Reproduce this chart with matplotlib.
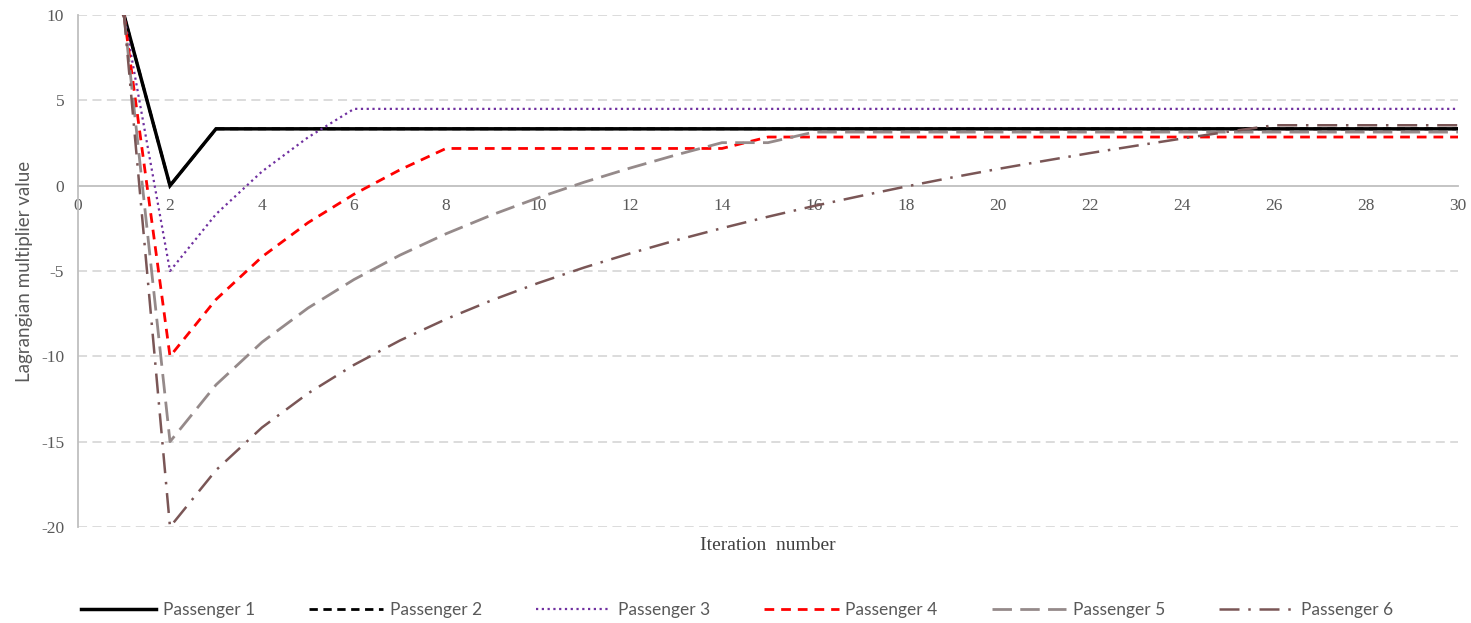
import matplotlib
matplotlib.use("Agg")
import matplotlib.pyplot as plt
from matplotlib.lines import Line2D

plt.rcParams["axes.unicode_minus"] = False

# Iterations of the subgradient procedure
iterations = list(range(1, 31))

# Lagrangian multiplier of each passenger per iteration
passenger_1 = [10, 0] + [3.33] * 28
passenger_2 = [10, 0] + [3.33] * 28
passenger_3 = [10, -5, -1.67, 0.83, 2.83] + [4.5] * 25
passenger_4 = [10, -10, -6.67, -4.17, -2.17, -0.5, 0.93] + [2.18] * 7 + [2.85] * 16
passenger_5 = [10, -15, -11.67, -9.17, -7.17, -5.5, -4.07, -2.82, -1.71, -0.71,
               0.2, 1.03, 1.8, 2.52, 2.52] + [3.14] * 15
passenger_6 = [10, -20, -16.67, -14.17, -12.17, -10.5, -9.07, -7.82, -6.71, -5.71,
               -4.8, -3.97, -3.2, -2.49, -1.82, -1.19, -0.61, -0.05, 0.48, 0.98,
               1.45, 1.91, 2.34, 2.76, 3.16] + [3.54] * 5

labels = ["Passenger 1", "Passenger 2", "Passenger 3",
          "Passenger 4", "Passenger 5", "Passenger 6"]
x_ticks = list(range(0, 31, 2))
y_ticks = [-20, -15, -10, -5, 0, 5, 10]

styles = [
    dict(color="#000000", lw=2.5, ls="-"),
    dict(color="#000000", lw=2.0, ls=(0, (3, 2))),
    dict(color="#7030A0", lw=1.6, ls=(0, (1, 1.6))),
    dict(color="#FF0000", lw=2.0, ls=(0, (3.5, 2.5))),
    dict(color="#958A8A", lw=2.0, ls=(0, (7, 3))),
    dict(color="#7A5656", lw=1.8, ls=(0, (8, 3.5, 1, 3.5))),
]
series = [passenger_1, passenger_2, passenger_3, passenger_4, passenger_5, passenger_6]

fig = plt.figure(figsize=(14.71, 6.23), dpi=100)
ax = fig.add_axes([78 / 1471, 1 - 527 / 623, (1458 - 78) / 1471, (527 - 15) / 623])

# draw order: Passenger 2 lies underneath Passenger 1
order = [1, 0, 2, 3, 4, 5]
for i in order:
    ax.plot(iterations, series[i], label=labels[i], clip_on=True,
            solid_joinstyle="miter", **styles[i])

ax.set_xlim(0, 30)
ax.set_ylim(-20, 10)
ax.set_xticks(x_ticks)
ax.set_yticks(y_ticks)

grey = "#BFBFBF"
for side in ["top", "right"]:
    ax.spines[side].set_visible(False)
ax.spines["bottom"].set_position(("data", 0))
ax.spines["bottom"].set_color(grey)
ax.spines["bottom"].set_linewidth(1.3)
ax.spines["bottom"].set_zorder(0.5)
ax.spines["left"].set_color(grey)
ax.spines["left"].set_linewidth(1.3)

for y in y_ticks:
    if y != 0:
        ax.axhline(y, color="#D9D9D9", lw=1.3, ls=(0, (5, 3)), zorder=0.4)

ax.tick_params(axis="both", length=0)
ax.tick_params(axis="x", pad=9)
ax.tick_params(axis="y", pad=10)
for lab in ax.get_xticklabels() + ax.get_yticklabels():
    lab.set_fontfamily("Liberation Serif")
    lab.set_fontsize(12.5)
    lab.set_color("#595959")

fig.text(768 / 1471, 1 - 545 / 623, "Iteration  number", ha="center", va="center",
         family="Liberation Serif", fontsize=14, color="#404040")
fig.text(25 / 1471, 1 - 271 / 623, "Lagrangian multiplier value", ha="center",
         va="center", rotation=90, family="Lato", fontsize=13.5, color="#595959")

handles = [Line2D([], [], **styles[i]) for i in range(6)]
leg = fig.legend(handles, labels, loc="center", bbox_to_anchor=(737 / 1471, 1 - 610 / 623),
                 ncol=6, frameon=False, handlelength=4.3, handletextpad=0.4,
                 columnspacing=3.1, prop=dict(family="Lato", size=12.5))
for t in leg.get_texts():
    t.set_color("#595959")

fig.savefig("out.png", dpi=100)
